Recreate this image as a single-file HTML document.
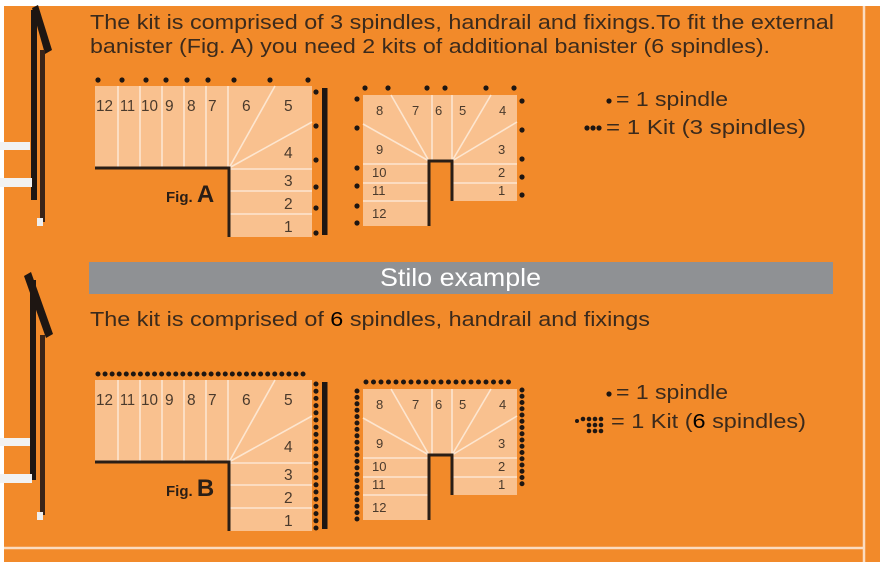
<!DOCTYPE html>
<html><head><meta charset="utf-8"><style>
html,body{margin:0;padding:0;background:#fff;}
svg{display:block;}
text{font-family:"Liberation Sans",sans-serif;}
.t{fill:#3b2a1c;font-size:20px;}
.n{fill:#4a3a2c;font-size:15.5px;}
.m{fill:#4a3a2c;font-size:13px;}
.s{fill:#f9c18f;}
.w{stroke:#fde6d0;stroke-width:1.6;fill:none;}
.k{stroke:#2a1e16;stroke-width:3;fill:none;}
.d{stroke:#1e1612;stroke-linecap:round;fill:none;}
</style></head><body>
<svg width="886" height="567" viewBox="0 0 886 567" xmlns="http://www.w3.org/2000/svg">
<rect x="4" y="6" width="876" height="556" fill="#f28a2a"/>
<line x1="864" y1="6" x2="864" y2="562" stroke="#fbdcc0" stroke-width="2.5"/>
<line x1="4" y1="548" x2="864" y2="548" stroke="#fbdcc0" stroke-width="2.5"/>

<!-- railings -->
<g>
<path d="M32 8 L38 5 L52 50 L45 54 Z" fill="#1e1612"/>
<rect x="31" y="10" width="6" height="190" fill="#1e1612"/>
<rect x="40" y="50" width="5" height="172" fill="#3a2418"/>
<rect x="0" y="142" width="30" height="8" fill="#f2f2f2"/>
<rect x="0" y="178" width="32" height="9" fill="#f2f2f2"/>
<rect x="37" y="218" width="6" height="8" fill="#eee"/>
<path d="M24 276 L31 272 L53 334 L46 338 Z" fill="#1e1612"/>
<rect x="30" y="280" width="6" height="200" fill="#1e1612"/>
<rect x="40" y="335" width="5" height="180" fill="#3a2418"/>
<rect x="0" y="438" width="30" height="8" fill="#f2f2f2"/>
<rect x="0" y="474" width="32" height="9" fill="#f2f2f2"/>
<rect x="37" y="512" width="6" height="8" fill="#eee"/>
</g>

<text class="t" x="90" y="29" textLength="744" lengthAdjust="spacingAndGlyphs">The kit is comprised of 3 spindles, handrail and fixings.To fit the external</text>
<text class="t" x="90" y="53" textLength="680" lengthAdjust="spacingAndGlyphs">banister (Fig. A) you need 2 kits of additional banister (6 spindles).</text>

<rect x="89" y="262" width="744" height="32" fill="#8f9194"/>
<text x="380" y="286" fill="#fff" font-size="25" textLength="161" lengthAdjust="spacingAndGlyphs">Stilo example</text>
<text class="t" x="90" y="326" textLength="560" lengthAdjust="spacingAndGlyphs">The kit is comprised of <tspan fill="#000">6</tspan> spindles, handrail and fixings</text>

<!-- Legend A -->
<circle cx="609" cy="101" r="2.6" fill="#1e1612"/>
<text class="t" x="616" y="106" font-size="22" textLength="112" lengthAdjust="spacingAndGlyphs">= 1 spindle</text>
<circle cx="587" cy="128" r="2.6" fill="#1e1612"/><circle cx="593" cy="128" r="2.6" fill="#1e1612"/><circle cx="599" cy="128" r="2.6" fill="#1e1612"/>
<text class="t" x="606" y="134" font-size="22" textLength="200" lengthAdjust="spacingAndGlyphs">= 1 Kit (3 spindles)</text>

<!-- Legend B -->
<circle cx="609" cy="394" r="2.6" fill="#1e1612"/>
<text class="t" x="616" y="399" font-size="22" textLength="112" lengthAdjust="spacingAndGlyphs">= 1 spindle</text>
<g fill="#1e1612"><circle cx="577" cy="421" r="2"/><circle cx="583" cy="419" r="2.3"/><circle cx="589" cy="419" r="2.3"/><circle cx="595" cy="419" r="2.3"/><circle cx="601" cy="419" r="2.3"/>
<circle cx="589" cy="425" r="2.3"/><circle cx="595" cy="425" r="2.3"/><circle cx="601" cy="425" r="2.3"/><circle cx="589" cy="431" r="2.3"/><circle cx="595" cy="431" r="2.3"/><circle cx="601" cy="431" r="2.3"/></g>
<text class="t" x="611" y="428" font-size="22" textLength="195" lengthAdjust="spacingAndGlyphs">= 1 Kit (<tspan fill="#000">6</tspan> spindles)</text>

<!-- FIG A -->
<g>
<path class="s" d="M95 86 H312 V237 H229 V168 H95 Z"/>
<g class="w"><line x1="118" y1="86" x2="118" y2="168"/><line x1="140" y1="86" x2="140" y2="168"/><line x1="162" y1="86" x2="162" y2="168"/><line x1="184" y1="86" x2="184" y2="168"/><line x1="206" y1="86" x2="206" y2="168"/><line x1="228" y1="86" x2="228" y2="168"/>
<line x1="229" y1="168" x2="275" y2="86"/><line x1="229" y1="168" x2="312" y2="122"/><line x1="229" y1="169" x2="312" y2="169"/><line x1="229" y1="191" x2="312" y2="191"/><line x1="229" y1="214" x2="312" y2="214"/></g>
<path class="k" d="M95 168 H229 V237"/>
<rect x="322" y="88" width="5.5" height="147" fill="#1e1612"/>
<g class="n"><text x="96" y="111" textLength="17" lengthAdjust="spacingAndGlyphs">12</text><text x="120" y="111" textLength="15" lengthAdjust="spacingAndGlyphs">11</text><text x="141" y="111" textLength="17" lengthAdjust="spacingAndGlyphs">10</text><text x="165" y="111">9</text><text x="187" y="111">8</text><text x="208" y="111">7</text><text x="242" y="111">6</text><text x="284" y="111">5</text><text x="284" y="158">4</text><text x="284" y="186">3</text><text x="284" y="209">2</text><text x="284" y="232">1</text></g>
<text x="166" y="202" font-size="15" font-weight="bold" fill="#2a1e16">Fig. <tspan font-size="24">A</tspan></text>
<g fill="#1e1612"><circle cx="98" cy="80" r="2.6"/><circle cx="122" cy="80" r="2.6"/><circle cx="146" cy="80" r="2.6"/><circle cx="166" cy="80" r="2.6"/><circle cx="187" cy="80" r="2.6"/><circle cx="208" cy="80" r="2.6"/><circle cx="234" cy="80" r="2.6"/><circle cx="270" cy="80" r="2.6"/><circle cx="308" cy="80" r="2.6"/>
<circle cx="316" cy="92" r="2.6"/><circle cx="316" cy="126" r="2.6"/><circle cx="316" cy="160" r="2.6"/><circle cx="316" cy="187" r="2.6"/><circle cx="316" cy="208" r="2.6"/><circle cx="316" cy="233" r="2.6"/></g>

<path class="s" d="M363 95 H517 V201 H452 V161 H429 V226 H363 Z"/>
<g class="w"><line x1="432" y1="95" x2="432" y2="161"/><line x1="452" y1="95" x2="452" y2="161"/><line x1="429" y1="161" x2="391" y2="95"/><line x1="429" y1="161" x2="363" y2="124"/><line x1="452" y1="161" x2="491" y2="95"/><line x1="452" y1="161" x2="517" y2="122"/>
<line x1="363" y1="164" x2="429" y2="164"/><line x1="363" y1="183" x2="429" y2="183"/><line x1="363" y1="201" x2="429" y2="201"/><line x1="452" y1="164" x2="517" y2="164"/><line x1="452" y1="183" x2="517" y2="183"/></g>
<path class="k" d="M429 226 V161 H452 V201" stroke-width="2.4"/>
<g class="m"><text x="376" y="115">8</text><text x="412" y="115">7</text><text x="435" y="115">6</text><text x="459" y="115">5</text><text x="499" y="115">4</text><text x="376" y="154">9</text><text x="498" y="154">3</text><text x="372" y="177">10</text><text x="498" y="177">2</text><text x="372" y="195">11</text><text x="498" y="195">1</text><text x="372" y="218">12</text></g>
<g fill="#1e1612"><circle cx="365" cy="88" r="2.6"/><circle cx="388" cy="88" r="2.6"/><circle cx="427" cy="88" r="2.6"/><circle cx="445" cy="88" r="2.6"/><circle cx="486" cy="88" r="2.6"/><circle cx="514" cy="88" r="2.6"/>
<circle cx="357" cy="99" r="2.6"/><circle cx="357" cy="128" r="2.6"/><circle cx="357" cy="168" r="2.6"/><circle cx="357" cy="186" r="2.6"/><circle cx="357" cy="206" r="2.6"/><circle cx="357" cy="223" r="2.6"/>
<circle cx="522" cy="101" r="2.6"/><circle cx="522" cy="130" r="2.6"/><circle cx="522" cy="159" r="2.6"/><circle cx="522" cy="177" r="2.6"/><circle cx="522" cy="195" r="2.6"/></g>
</g>

<!-- FIG B -->
<g transform="translate(0,294)">
<path class="s" d="M95 86 H312 V237 H229 V168 H95 Z"/>
<g class="w"><line x1="118" y1="86" x2="118" y2="168"/><line x1="140" y1="86" x2="140" y2="168"/><line x1="162" y1="86" x2="162" y2="168"/><line x1="184" y1="86" x2="184" y2="168"/><line x1="206" y1="86" x2="206" y2="168"/><line x1="228" y1="86" x2="228" y2="168"/>
<line x1="229" y1="168" x2="275" y2="86"/><line x1="229" y1="168" x2="312" y2="122"/><line x1="229" y1="169" x2="312" y2="169"/><line x1="229" y1="191" x2="312" y2="191"/><line x1="229" y1="214" x2="312" y2="214"/></g>
<path class="k" d="M95 168 H229 V237"/>
<rect x="322" y="88" width="5.5" height="147" fill="#1e1612"/>
<g class="n"><text x="96" y="111" textLength="17" lengthAdjust="spacingAndGlyphs">12</text><text x="120" y="111" textLength="15" lengthAdjust="spacingAndGlyphs">11</text><text x="141" y="111" textLength="17" lengthAdjust="spacingAndGlyphs">10</text><text x="165" y="111">9</text><text x="187" y="111">8</text><text x="208" y="111">7</text><text x="242" y="111">6</text><text x="284" y="111">5</text><text x="284" y="158">4</text><text x="284" y="186">3</text><text x="284" y="209">2</text><text x="284" y="232">1</text></g>
<text x="166" y="202" font-size="15" font-weight="bold" fill="#2a1e16">Fig. <tspan font-size="24">B</tspan></text>
<line class="d" x1="98" y1="80" x2="310" y2="80" stroke-width="5" stroke-dasharray="0 7.07"/>
<line class="d" x1="316" y1="90" x2="316" y2="234" stroke-width="5" stroke-dasharray="0 7.2"/>

<path class="s" d="M363 95 H517 V201 H452 V161 H429 V226 H363 Z"/>
<g class="w"><line x1="432" y1="95" x2="432" y2="161"/><line x1="452" y1="95" x2="452" y2="161"/><line x1="429" y1="161" x2="391" y2="95"/><line x1="429" y1="161" x2="363" y2="124"/><line x1="452" y1="161" x2="491" y2="95"/><line x1="452" y1="161" x2="517" y2="122"/>
<line x1="363" y1="164" x2="429" y2="164"/><line x1="363" y1="183" x2="429" y2="183"/><line x1="363" y1="201" x2="429" y2="201"/><line x1="452" y1="164" x2="517" y2="164"/><line x1="452" y1="183" x2="517" y2="183"/></g>
<path class="k" d="M429 226 V161 H452 V201" stroke-width="2.4"/>
<g class="m"><text x="376" y="115">8</text><text x="412" y="115">7</text><text x="435" y="115">6</text><text x="459" y="115">5</text><text x="499" y="115">4</text><text x="376" y="154">9</text><text x="498" y="154">3</text><text x="372" y="177">10</text><text x="498" y="177">2</text><text x="372" y="195">11</text><text x="498" y="195">1</text><text x="372" y="218">12</text></g>
<line class="d" x1="366" y1="88" x2="516" y2="88" stroke-width="5" stroke-dasharray="0 7.5"/>
<line class="d" x1="357" y1="97" x2="357" y2="225" stroke-width="5" stroke-dasharray="0 6.4"/>
<line class="d" x1="522" y1="96" x2="522" y2="196" stroke-width="5" stroke-dasharray="0 6.25"/>
</g>
</svg>
</body></html>
